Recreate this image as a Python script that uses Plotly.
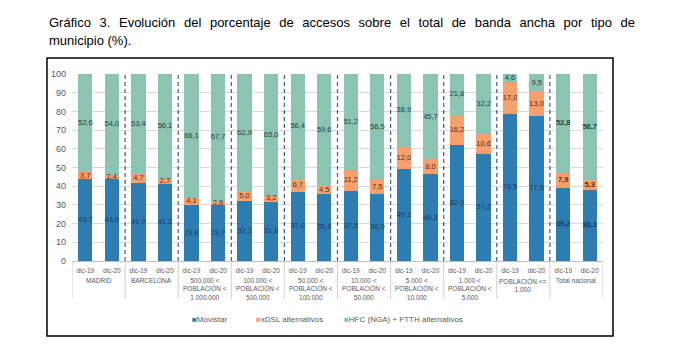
import plotly.graph_objects as go

groups = ["MADRID", "BARCELONA", "500.000 <<br>POBLACIÓN <<br>1.000.000",
          "100.000 <<br>POBLACIÓN <<br>500.000", "50.000 <<br>POBLACIÓN <<br>100.000",
          "10.000 <<br>POBLACIÓN <<br>50.000", "5.000 <<br>POBLACIÓN <<br>10.000",
          "1.000 <<br>POBLACIÓN <<br>5.000", "POBLACIÓN <=<br>1.000", "Total nacional"]
periods = ["dic-19", "dic-20"]

movistar = [43.7, 43.6, 41.9, 41.2, 29.8, 29.7, 32.1, 31.8, 37.0, 35.8,
            37.5, 36.0, 49.1, 46.3, 62.0, 57.2, 78.5, 77.5, 39.2, 38.1]
xdsl = [3.7, 2.4, 4.7, 2.7, 4.1, 2.6, 5.0, 3.2, 6.7, 4.5,
        11.2, 7.5, 12.0, 8.0, 16.2, 10.6, 17.0, 13.0, 7.9, 5.3]
hfc = [52.6, 54.0, 53.4, 56.1, 66.1, 67.7, 62.9, 65.0, 56.4, 59.6,
       51.2, 56.5, 38.9, 45.7, 21.8, 32.2, 4.6, 9.5, 52.8, 56.7]
series_names = ["Movistar", "xDSL alternativos", "HFC (NGA) + FTTH alternativos"]
yticks = [0, 10, 20, 30, 40, 50, 60, 70, 80, 90, 100]

colors = ["#2E7DB2", "#F7A06E", "#8CC4B4"]
text_colors = ["#1F3A5F", "#5A2A10", "#25403A"]

OFF = 8  # page body margin
W, H = 689 - OFF, 356 - OFF
L, R, T, B = 72 - OFF, 86, 74 - OFF, 95
pw, ph = W - L - R, H - T - B


def px(x):
    return (x - OFF - L) / pw


def py(y):
    return (H - B - (y - OFF)) / ph


n = len(movistar)
xs = list(range(n))
bold = [i >= n - 2 for i in xs]


def fmt(v, b):
    s = f"{v:.1f}".replace(".", ",")
    return f"<b>{s}</b>" if b else s


fig = go.Figure()
stacks = [movistar, xdsl, hfc]
base = [0.0] * n
for k, vals in enumerate(stacks):
    fig.add_trace(go.Bar(x=xs, y=vals, name=series_names[k], marker_color=colors[k],
                         marker_line_width=0, showlegend=False, hoverinfo="skip"))
    mids = [base[i] + vals[i] / 2 for i in xs]
    fig.add_trace(go.Scatter(x=xs, y=mids, mode="text",
                             text=[fmt(vals[i], bold[i]) for i in xs],
                             textfont=dict(size=7.5, color=text_colors[k], family="Liberation Sans"),
                             showlegend=False, hoverinfo="skip"))
    base = [base[i] + vals[i] for i in xs]

fig.update_layout(
    width=W, height=H, barmode="stack", bargap=0.46,
    margin=dict(l=L, r=R, t=T, b=B),
    paper_bgcolor="white", plot_bgcolor="white",
    font=dict(family="Liberation Sans", color="#595959"),
    xaxis=dict(tickvals=xs, ticktext=[periods[i % 2] for i in xs], range=[-0.5, n - 0.5],
               tickfont=dict(size=6.5, color="#595959"), ticks="", showline=True,
               linecolor="#BFBFBF", linewidth=1, showgrid=False, zeroline=False,
               ticklabelstandoff=3),
    yaxis=dict(range=[0, 100], tickvals=yticks, tickfont=dict(size=9, color="#595959"),
               gridcolor="#D9D9D9", gridwidth=1, zeroline=False, showline=False,
               ticks="", ticklabelstandoff=5),
)

shapes = []
ng = len(groups)
for g in range(1, ng):
    xb = 2 * g - 0.5
    shapes.append(dict(type="line", xref="x", yref="paper", x0=xb, x1=xb, y0=0, y1=1,
                       line=dict(color="#3C5A9A", width=1.2, dash="4px,3px")))
for g in range(ng + 1):
    xb = 2 * g - 0.5
    shapes.append(dict(type="line", xref="x", yref="paper", x0=xb, x1=xb, y0=0, y1=py(299),
                       line=dict(color="#D0D0D0", width=1)))
shapes.append(dict(type="rect", xref="paper", yref="paper", x0=px(47), x1=px(613),
                   y0=py(336), y1=py(58), line=dict(color="black", width=1.5)))
fig.update_layout(shapes=shapes)

ann = []
for g in range(ng):
    ann.append(dict(x=2 * g + 0.5, xref="x", y=py(275), yref="paper", text=groups[g],
                    showarrow=False, xanchor="center", yanchor="top",
                    font=dict(size=6.5, color="#595959")))
# title (justified first line via word spacing)
tfont = dict(size=13, color="black", family="Liberation Sans")
ann.append(dict(x=px(47), y=py(13), xref="paper", yref="paper", xanchor="left", yanchor="top",
                showarrow=False,
                text="<span style='word-spacing:5px'>Gráfico 3. Evolución del porcentaje de accesos sobre el total de banda ancha por tipo de</span>",
                font=tfont))
ann.append(dict(x=px(47), y=py(31), xref="paper", yref="paper", xanchor="left", yanchor="top",
                showarrow=False, text="municipio (%).", font=tfont))
# legend
leg_x = [190, 254, 342]
for k in range(3):
    ann.append(dict(x=px(leg_x[k]), y=py(319), xref="paper", yref="paper", xanchor="left",
                    yanchor="middle", showarrow=False,
                    text=f"<span style='color:{colors[k]}'>■</span>{series_names[k]}",
                    font=dict(size=8, color="#595959")))
fig.update_layout(annotations=ann)

fig.write_html("out.html")
